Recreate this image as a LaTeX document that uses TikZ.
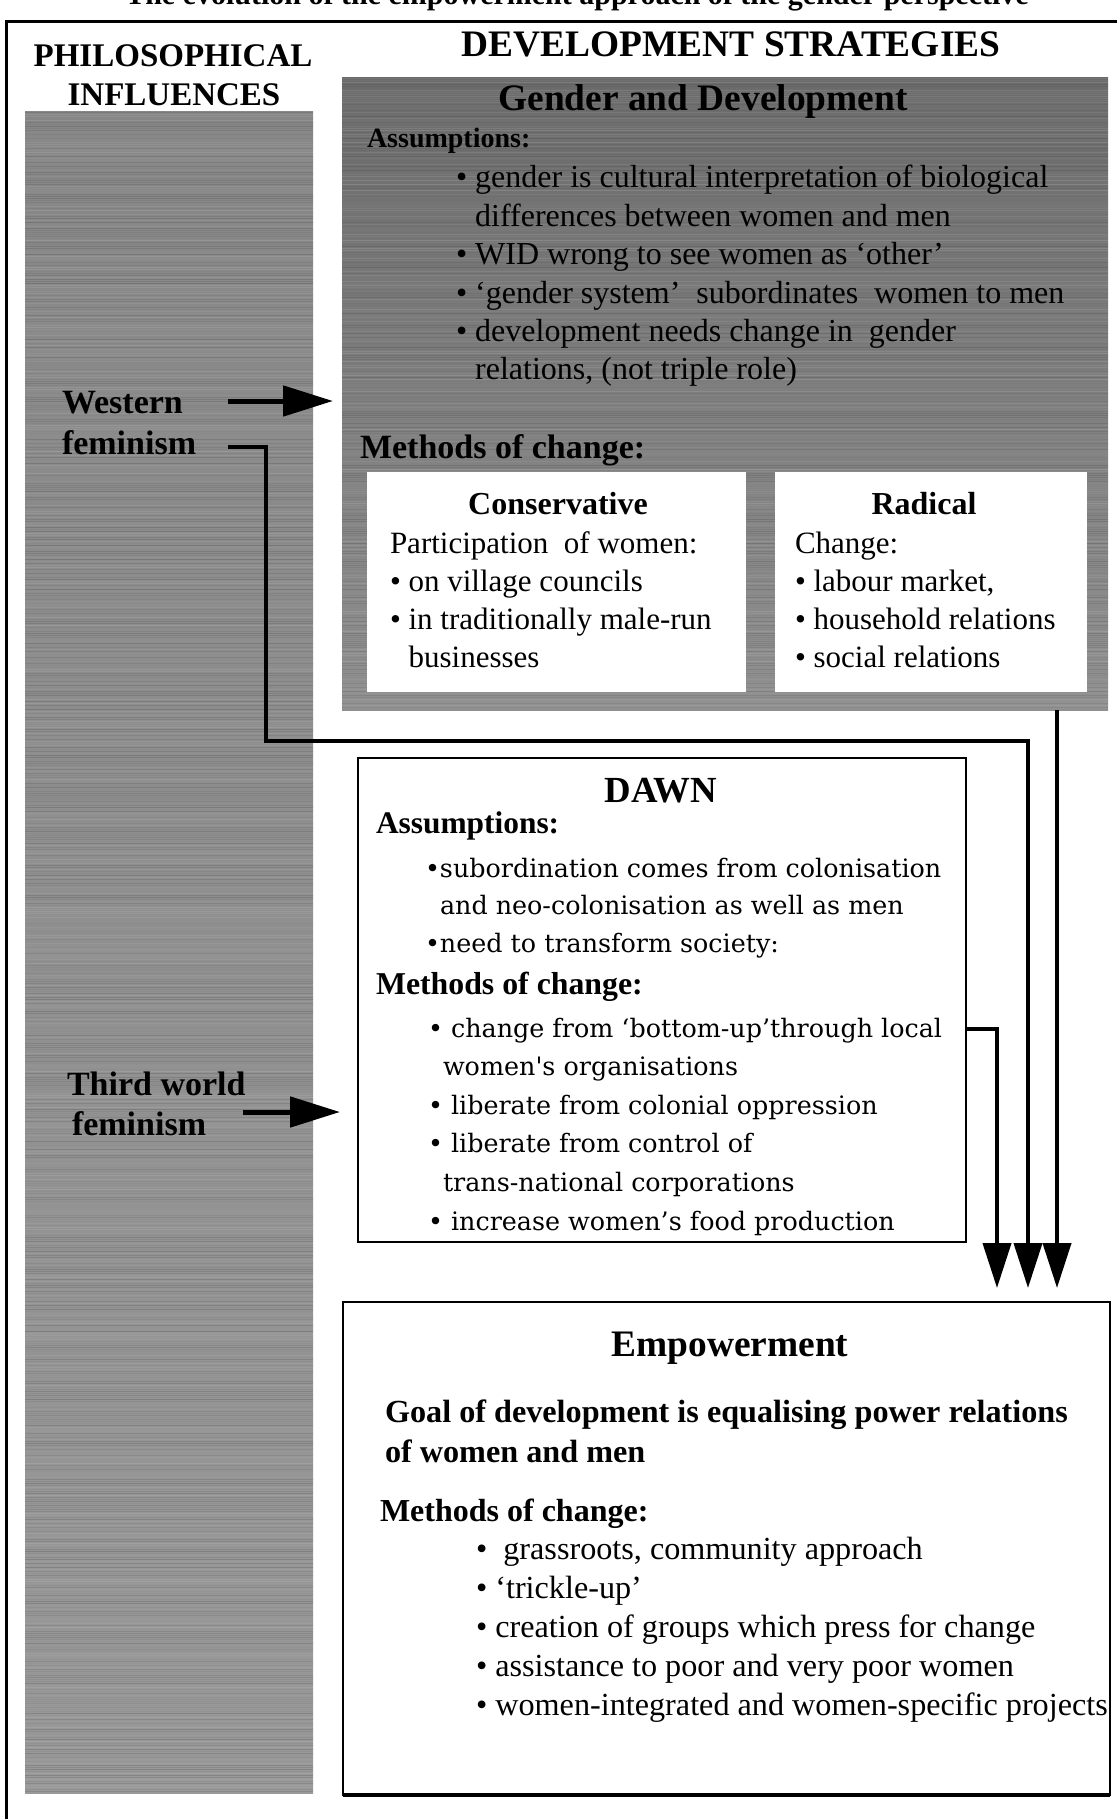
\documentclass[tikz,border=0pt]{standalone}
\usepackage{fontspec}
\setmainfont{Liberation Serif}
\newfontfamily\dawnfont{DejaVu Serif}
\usetikzlibrary{arrows.meta,calc}
\definecolor{colgray}{gray}{0.53}
\definecolor{colgraylow}{gray}{0.60}
\definecolor{gadgraytop}{gray}{0.42}
\definecolor{gadgraybot}{gray}{0.57}
\newcommand\lineblock[1]{\begin{tabular}[t]{@{}l@{}}#1\end{tabular}}
\newcommand\fs[2]{\fontsize{#1}{#2}\selectfont}
\newcommand\bul{\textbullet\ }
\newcommand\ind{\hphantom{\textbullet\ }}
\begin{document}
\begin{tikzpicture}[x=0.5pt,y=-0.5pt,
  txt/.style={anchor=base west, inner sep=0pt, outer sep=0pt},
  ctxt/.style={anchor=base, inner sep=0pt, outer sep=0pt},
  box/.style={anchor=north west, inner sep=0pt, outer sep=0pt},
  framebox/.style={box, draw=black, line width=1.2pt, fill=white},
  grain/.style={line width=0.5pt, opacity=0.25},
  conn/.style={line width=2pt, -{Triangle[length=22.5pt,width=14pt]}},
  bigarrow/.style={line width=2.5pt, -{Triangle[length=25pt,width=15pt]}},
]
\useasboundingbox (0,0) rectangle (1117,1819);
\fill[white] (0,0) rectangle (1117,1819);
\pgfmathsetseed{7}

% cut-off title and outer frame
\node[ctxt, font=\bfseries\fs{15}{18}] (title) at (577,5) {The evolution of the empowerment approach of the gender perspective};
\draw[line width=1.5pt] (6,1840) -- (6,22) -- (1140,22);

% left column
\node[box, top color=colgray, bottom color=colgraylow, minimum width=144pt, minimum height=840.5pt] (leftcol) at (25,112) {};
\foreach \yy in {113,115,...,1791}{
  \pgfmathsetmacro\gv{25+50*rnd}
  \draw[grain, black!\gv] (25,\yy) -- (313,\yy);
}
\node[ctxt, font=\bfseries\fs{16.5}{20}] (phil1) at (173,67) {PHILOSOPHICAL};
\node[ctxt, font=\bfseries\fs{16.5}{20}] (phil2) at (174,106) {INFLUENCES};
\node[ctxt, font=\bfseries\fs{18.7}{22}] (devstr) at (731,57) {DEVELOPMENT STRATEGIES};

% Gender and Development
\node[box, top color=gadgraytop, bottom color=gadgraybot, minimum width=383pt, minimum height=316pt] (gad) at (342,78) {};
\foreach \yy in {79,81,...,709}{
  \pgfmathsetmacro\gv{25+50*rnd}
  \draw[grain, black!\gv] (342,\yy) -- (1108,\yy);
}
\node[ctxt, font=\bfseries\fs{18.7}{22}] (gadt) at (703,111) {Gender and Development};
\node[txt, font=\bfseries\fs{14}{18}] (gadass) at (367,148) {Assumptions:};
\node[txt, font=\fs{16}{19.2}] (gadlist) at (456,188) {\lineblock{\bul gender is cultural interpretation of biological\\ \ind differences between women and men\\ \bul WID wrong to see women as ‘other’\\ \bul ‘gender system’\ \ subordinates\ \ women to men\\ \bul development needs change in\ \ gender\\ \ind relations, (not triple role)}};
\node[txt, font=\bfseries\fs{17}{20}] (gadmeth) at (360,458) {Methods of change:};

\node[box, fill=white, minimum width=189.5pt, minimum height=110pt] (cons) at (367,472) {};
\node[box, fill=white, minimum width=156pt, minimum height=110pt] (rad) at (775,472) {};
\node[ctxt, font=\bfseries\fs{16}{19}] (const) at (558,514) {Conservative};
\node[txt, font=\fs{15.5}{19.1}] (consl) at (390,553) {\lineblock{Participation\ \ of women:\\ \bul on village councils\\ \bul in traditionally male-run\\ \ind businesses}};
\node[ctxt, font=\bfseries\fs{16}{19}] (radt) at (924,514) {Radical};
\node[txt, font=\fs{15.5}{19.1}] (radl) at (795,553) {\lineblock{Change:\\ \bul labour market,\\ \bul household relations\\ \bul social relations}};

% philosophical influences
\node[txt, font=\bfseries\fs{17}{20.5}] (west) at (62,413) {\lineblock{Western\\feminism}};
\node[txt, font=\bfseries\fs{17}{20}] (third) at (67,1095) {\lineblock{Third world\\ \hspace{2.5pt}feminism}};

% DAWN
\node[framebox, minimum width=304pt, minimum height=242pt] (dawn) at (358,758) {};
\node[ctxt, font=\bfseries\fs{18.4}{22}] (dawnt) at (661,802) {DAWN};
\node[txt, font=\bfseries\fs{15.7}{19}] (dawnass) at (376,833) {Assumptions:};
\node[txt, font=\dawnfont\fs{12.7}{18.75}] (dawnl1) at (425,877) {\lineblock{\textbullet subordination comes from colonisation\\ \hspace{7.5pt}and neo-colonisation as well as men\\ \textbullet need to transform society:}};
\node[txt, font=\bfseries\fs{15.9}{19}] (dawnmeth) at (376,994) {Methods of change:};
\node[txt, font=\dawnfont\fs{12.7}{19.3}] (dawnl2) at (428,1037) {\lineblock{\textbullet\ change from ‘bottom-up’through local\\ \hspace{7.5pt}women's organisations\\ \textbullet\ liberate from colonial oppression\\ \textbullet\ liberate from control of\\ \hspace{7.5pt}trans-national corporations\\ \textbullet\ increase women’s food production}};

% Empowerment
\node[framebox, minimum width=383.5pt, minimum height=246.5pt] (emp) at (343,1302) {};
\draw[line width=2.2pt] (emp.south west) -- (emp.south east);
\node[ctxt, font=\bfseries\fs{18.7}{22}] (empt) at (730,1356) {Empowerment};
\node[txt, font=\bfseries\fs{16.1}{20}] (empgoal) at (385,1422) {\lineblock{Goal of development is equalising power relations\\ of women and men}};
\node[txt, font=\bfseries\fs{16}{19}] (empmeth) at (380,1521) {Methods of change:};
\node[txt, font=\fs{16.1}{19.6}] (empl) at (476,1559) {\lineblock{\bul\ grassroots, community approach\\ \bul ‘trickle-up’\\ \bul creation of groups which press for change\\ \bul assistance to poor and very poor women\\ \bul women-integrated and women-specific projects}};

% connectors
\coordinate (westarr) at (228,401);
\draw[bigarrow] (westarr) -- ($(gad.west |- westarr)+(-9,0)$);
\coordinate (thirdarr) at (243,1112);
\draw[bigarrow] (thirdarr) -- ($(dawn.west |- thirdarr)+(-18,0)$);

\coordinate (femout) at (228,447);
\coordinate (tipA) at (997,1288);
\coordinate (tipB) at (1028,1288);
\coordinate (tipC) at (1057,1288);
\draw[conn] (femout) -- (266,447) -- (266,741) -- (1028,741) -- (tipB);
\draw[conn] (gad.south -| tipC) -- (tipC);
\draw[conn] ($(dawn.east)+(0,29)$) -- ($(dawn.east)+(31,29)$) -- (tipA);
\end{tikzpicture}
\end{document}
